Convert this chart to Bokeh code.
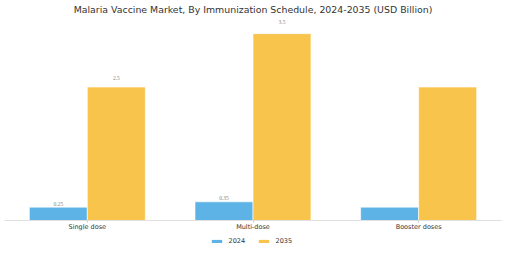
from bokeh.plotting import figure
from bokeh.layouts import column
from bokeh.models import ColumnDataSource, FactorRange, Range1d, Legend, LegendItem, LabelSet
from bokeh.transform import dodge
from bokeh.embed import file_html
from bokeh.resources import INLINE

categories = ["Single dose", "Multi-dose", "Booster doses"]
values_2024 = [0.25, 0.35, 0.25]
values_2035 = [2.5, 3.5, 2.5]
labels_2024 = ["0.25", "0.35", ""]
labels_2035 = ["2.5", "3.5", ""]
series = ["2024", "2035"]
colors = ["#5DB3E6", "#F9C44C"]

src = ColumnDataSource(dict(
    cat=categories,
    v24=values_2024,
    v35=values_2035,
    l24=labels_2024,
    l35=labels_2035,
    y24=[v * 1.05 + 0.045 for v in values_2024],
    y35=[v * 1.05 + 0.045 for v in values_2035],
))

p = figure(width=505, height=233, x_range=FactorRange(*categories, range_padding=0),
           y_range=Range1d(0, 3.84), output_backend="svg", toolbar_location=None,
           min_border_left=4, min_border_right=4, min_border_top=0, min_border_bottom=0,
           title="Malaria Vaccine Market, By Immunization Schedule, 2024-2035 (USD Billion)")
p.outline_line_color = None
p.background_fill_color = "white"
p.border_fill_color = "white"
p.title.align = "center"
p.title.text_font = "DejaVu Sans"
p.title.text_font_size = "9.4px"
p.title.text_font_style = "normal"
p.title.text_color = "#333333"
p.title.standoff = 2

r1 = p.vbar(x=dodge("cat", -0.175, range=p.x_range), top="v24", width=0.35, source=src,
            fill_color=colors[0], line_color="white", line_width=0.6)
r2 = p.vbar(x=dodge("cat", 0.175, range=p.x_range), top="v35", width=0.35, source=src,
            fill_color=colors[1], line_color="white", line_width=0.6)

for xoff, ycol, tcol in [(-0.175, "y24", "l24"), (0.175, "y35", "l35")]:
    p.add_layout(LabelSet(x=dodge("cat", xoff, range=p.x_range), y=ycol, text=tcol, source=src,
                          text_align="center", text_baseline="middle", text_font_size="5.5px",
                          text_color="#888888", text_font="DejaVu Sans"))

p.yaxis.visible = False
p.xgrid.visible = False
p.ygrid.visible = False
p.xaxis.axis_line_color = "#e0e0e0"
p.xaxis.major_tick_line_color = "#cccccc"
p.xaxis.major_tick_out = 2
p.xaxis.major_tick_in = 0
p.xaxis.minor_tick_line_color = None
p.xaxis.major_label_text_font = "DejaVu Sans"
p.xaxis.major_label_text_font_size = "6.5px"
p.xaxis.major_label_text_color = "#333333"
p.xaxis.major_label_standoff = 0

# legend strip below the chart
pl = figure(width=505, height=16, x_range=Range1d(0, 1), y_range=Range1d(0, 1),
            output_backend="svg", toolbar_location=None,
            min_border_left=0, min_border_right=0, min_border_top=0, min_border_bottom=0)
pl.axis.visible = False
pl.grid.visible = False
pl.outline_line_color = None
lr1 = pl.vbar(x=[0.5], top=[0], bottom=[0], width=0.0, fill_color=colors[0], line_color=None)
lr2 = pl.vbar(x=[0.5], top=[0], bottom=[0], width=0.0, fill_color=colors[1], line_color=None)
legend = Legend(items=[LegendItem(label=series[0], renderers=[lr1]),
                       LegendItem(label=series[1], renderers=[lr2])],
                orientation="horizontal", location="center",
                glyph_width=13, glyph_height=4, label_height=8,
                label_text_font="DejaVu Sans", label_text_font_size="6.5px",
                label_text_color="#333333", spacing=8, padding=2, margin=0,
                border_line_color=None, background_fill_alpha=0, label_standoff=6)
pl.add_layout(legend, "center")

layout = column(p, pl, spacing=0)
open("out.html", "w").write(file_html(layout, INLINE))
